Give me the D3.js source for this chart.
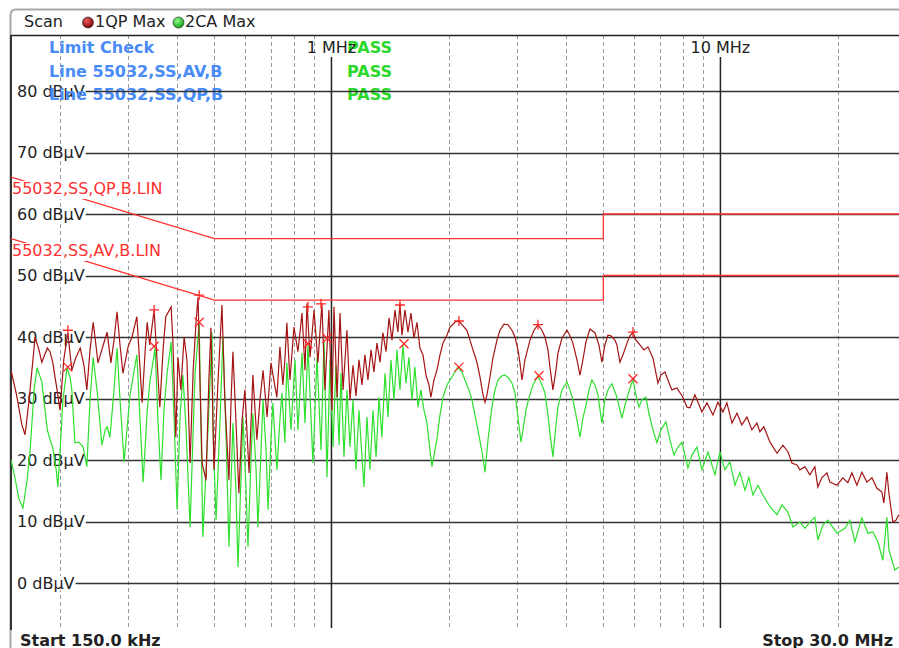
<!DOCTYPE html>
<html>
<head>
<meta charset="utf-8">
<script src="https://cdn.jsdelivr.net/npm/d3@7"></script>
<style>
  body { margin: 0; background: #fff; }
  svg { display: block; font-family: "DejaVu Sans", Verdana, sans-serif; }
</style>
</head>
<body>
<svg id="chart" width="899" height="648"></svg>
<script>
// QP max trace (trace 1), [MHz, dBuV]
const qpTrace = [
  [0.150, 34.6], [0.155, 30.6], [0.160, 25.7], [0.163, 24.1], [0.167, 29.8], [0.173, 40.0], [0.177, 37.9],
  [0.180, 35.9], [0.186, 38.2], [0.189, 37.6], [0.192, 35.9], [0.197, 31.4], [0.2005, 28.1], [0.205, 36.3],
  [0.210, 40.7], [0.215, 34.6], [0.220, 36.6], [0.226, 38.2], [0.231, 35.4], [0.235, 31.4], [0.2395, 37.9],
  [0.244, 42.4], [0.248, 38.7], [0.251, 35.8], [0.259, 38.7], [0.265, 40.8], [0.271, 35.8], [0.276, 39.5],
  [0.281, 44.1], [0.286, 38.7], [0.291, 34.1], [0.300, 38.4], [0.307, 40.0], [0.316, 43.3], [0.326, 29.3],
  [0.332, 37.9], [0.336, 42.4], [0.341, 38.7], [0.350, 44.4], [0.356, 36.3], [0.362, 28.6], [0.369, 37.9],
  [0.375, 43.3], [0.387, 44.9], [0.391, 39.5], [0.398, 23.7], [0.403, 36.7], [0.410, 31.4], [0.418, 40.0],
  [0.425, 36.3], [0.433, 19.5], [0.441, 34.6], [0.449, 42.8], [0.454, 46.5], [0.459, 33.0], [0.465, 19.5],
  [0.476, 16.7], [0.484, 33.0], [0.490, 41.5], [0.499, 18.4], [0.511, 33.0], [0.523, 45.2], [0.532, 29.8],
  [0.545, 16.7], [0.552, 29.8], [0.558, 37.6], [0.568, 26.5], [0.578, 14.6], [0.589, 26.5], [0.599, 31.4],
  [0.614, 17.9], [0.628, 33.8], [0.643, 23.3], [0.655, 29.8], [0.667, 34.6], [0.683, 27.0], [0.699, 35.8],
  [0.716, 31.9], [0.724, 30.2], [0.737, 38.4], [0.750, 32.2], [0.759, 36.3], [0.768, 42.3], [0.782, 33.0],
  [0.801, 41.6], [0.820, 37.6], [0.840, 43.9], [0.855, 34.6], [0.865, 45.5], [0.881, 36.7], [0.902, 44.4],
  [0.923, 35.8], [0.945, 45.5], [0.962, 31.4], [0.985, 44.4], [1.003, 28.1], [1.015, 44.9], [1.034, 30.2],
  [1.052, 43.9], [1.071, 31.4], [1.096, 41.1], [1.116, 29.8], [1.136, 35.4], [1.156, 30.4], [1.177, 36.3],
  [1.198, 32.2], [1.219, 37.1], [1.241, 33.0], [1.264, 37.9], [1.286, 34.3], [1.309, 39.0], [1.333, 35.9],
  [1.356, 40.7], [1.381, 37.6], [1.406, 43.1], [1.431, 39.5], [1.456, 44.4], [1.482, 40.8], [1.500, 45.5],
  [1.518, 40.3], [1.545, 44.4], [1.573, 40.8], [1.601, 43.9], [1.630, 39.8], [1.659, 42.4], [1.688, 38.2],
  [1.719, 37.1], [1.750, 33.8], [1.781, 32.2], [1.802, 30.2], [1.834, 33.0], [1.867, 34.6], [1.901, 37.1],
  [1.935, 39.0], [1.981, 40.3], [2.017, 41.6], [2.077, 42.4], [2.127, 42.6], [2.165, 42.0], [2.230, 41.1],
  [2.270, 39.5], [2.311, 37.9], [2.366, 35.9], [2.409, 33.5], [2.452, 30.6], [2.482, 29.4], [2.511, 30.6],
  [2.556, 33.5], [2.601, 36.6], [2.664, 39.5], [2.712, 41.1], [2.777, 42.1], [2.843, 42.0], [2.911, 41.1],
  [2.964, 40.0], [3.017, 37.9], [3.052, 35.8], [3.088, 33.0], [3.144, 36.3], [3.239, 39.5], [3.317, 41.1],
  [3.396, 42.0], [3.477, 41.1], [3.539, 40.0], [3.603, 37.9], [3.645, 35.1], [3.710, 31.4], [3.777, 34.6],
  [3.822, 37.4], [3.913, 39.8], [4.031, 41.1], [4.103, 40.2], [4.176, 39.0], [4.277, 36.3], [4.353, 33.8],
  [4.431, 36.3], [4.511, 39.2], [4.618, 41.3], [4.757, 40.7], [4.871, 38.7], [4.958, 35.9], [5.047, 38.7],
  [5.138, 40.3], [5.230, 40.2], [5.355, 39.5], [5.419, 38.7], [5.517, 35.9], [5.616, 37.1], [5.751, 39.0],
  [5.853, 40.2], [5.958, 40.8], [6.065, 39.5], [6.210, 38.7], [6.359, 37.9], [6.511, 38.4], [6.706, 36.6],
  [6.908, 32.5], [7.031, 33.8], [7.200, 34.3], [7.329, 33.0], [7.504, 31.4], [7.730, 31.7], [8.010, 30.2],
  [8.203, 28.6], [8.349, 28.5], [8.600, 30.6], [8.963, 27.8], [9.234, 29.3], [9.566, 27.3], [9.854, 29.4],
  [10.15, 27.8], [10.39, 29.3], [10.71, 26.0], [11.03, 27.6], [11.35, 25.7], [11.70, 27.0], [12.05, 24.9],
  [12.41, 26.0], [12.63, 24.6], [12.93, 25.4], [13.41, 22.9], [13.98, 21.1], [14.48, 22.4], [14.92, 21.3],
  [15.27, 19.5], [15.73, 19.2], [16.01, 18.4], [16.49, 18.9], [16.98, 17.6], [17.49, 18.9], [17.80, 15.6],
  [18.23, 17.1], [18.78, 17.9], [19.12, 16.4], [19.93, 15.9], [20.64, 17.1], [21.26, 16.3], [21.78, 17.9],
  [22.43, 15.9], [23.10, 18.0], [23.80, 16.4], [24.52, 17.1], [25.26, 15.4], [26.01, 14.8], [26.32, 13.0],
  [26.79, 18.0], [27.11, 14.6], [27.76, 9.9], [28.26, 10.2], [28.76, 11.1]
];

// CISPR average max trace (trace 2), [MHz, dBuV]
const avTrace = [
  [0.150, 20.0], [0.154, 16.7], [0.157, 13.8], [0.161, 12.2], [0.165, 16.7], [0.168, 21.6], [0.172, 31.4],
  [0.175, 35.0], [0.180, 32.7], [0.186, 24.9], [0.189, 23.3], [0.192, 22.1], [0.196, 18.4], [0.198, 15.6],
  [0.202, 24.9], [0.204, 29.8], [0.209, 35.0], [0.213, 33.3], [0.215, 31.4], [0.219, 22.8], [0.224, 22.9],
  [0.230, 22.1], [0.235, 18.9], [0.2395, 29.8], [0.244, 36.7], [0.250, 30.9], [0.257, 22.4], [0.262, 24.9],
  [0.265, 25.4], [0.2695, 23.7], [0.276, 31.4], [0.281, 38.2], [0.286, 29.8], [0.293, 19.7], [0.298, 24.9],
  [0.303, 30.2], [0.311, 34.6], [0.316, 37.1], [0.322, 26.5], [0.328, 16.4], [0.336, 28.1], [0.341, 32.5],
  [0.352, 38.2], [0.358, 26.5], [0.3645, 16.7], [0.371, 28.1], [0.378, 34.1], [0.387, 39.2], [0.394, 26.5],
  [0.401, 11.9], [0.408, 27.0], [0.415, 33.8], [0.423, 24.9], [0.433, 9.1], [0.441, 24.9], [0.446, 34.1],
  [0.457, 42.3], [0.462, 24.9], [0.467, 7.5], [0.476, 18.4], [0.4815, 24.9], [0.490, 36.3], [0.493, 40.7],
  [0.496, 24.9], [0.505, 10.2], [0.517, 26.5], [0.526, 40.0], [0.536, 23.3], [0.545, 5.9], [0.552, 16.7],
  [0.558, 26.0], [0.568, 15.1], [0.575, 2.6], [0.585, 16.7], [0.592, 27.0], [0.603, 15.1], [0.610, 5.9],
  [0.621, 20.0], [0.628, 27.6], [0.640, 18.4], [0.647, 9.1], [0.659, 21.6], [0.667, 29.8], [0.679, 21.6],
  [0.687, 11.9], [0.699, 23.3], [0.707, 29.3], [0.716, 23.3], [0.724, 18.4], [0.737, 26.5], [0.746, 30.9],
  [0.759, 22.8], [0.768, 35.8], [0.787, 24.9], [0.806, 36.3], [0.820, 24.9], [0.840, 37.4], [0.855, 26.0],
  [0.870, 38.7], [0.896, 19.5], [0.918, 36.7], [0.940, 21.6], [0.957, 39.5], [0.974, 17.2], [0.9915, 36.3],
  [1.009, 22.1], [1.027, 35.4], [1.046, 22.4], [1.058, 34.1], [1.077, 20.5], [1.096, 31.4], [1.116, 22.1],
  [1.136, 29.8], [1.156, 18.4], [1.177, 28.1], [1.212, 15.6], [1.234, 27.0], [1.256, 18.4], [1.279, 28.1],
  [1.302, 20.5], [1.325, 30.2], [1.348, 23.7], [1.373, 34.1], [1.397, 27.0], [1.422, 36.3], [1.448, 29.8],
  [1.474, 37.9], [1.500, 31.4], [1.527, 38.7], [1.554, 32.5], [1.582, 36.7], [1.610, 29.8], [1.639, 35.1],
  [1.669, 28.6], [1.698, 31.4], [1.729, 28.1], [1.760, 26.0], [1.792, 21.6], [1.813, 18.9], [1.845, 21.6],
  [1.867, 23.3], [1.901, 27.3], [1.935, 30.2], [1.981, 32.2], [2.041, 33.5], [2.114, 35.1], [2.165, 34.3],
  [2.204, 33.0], [2.257, 31.4], [2.297, 29.8], [2.338, 27.3], [2.380, 24.9], [2.438, 21.3], [2.482, 18.0],
  [2.526, 23.3], [2.586, 28.6], [2.633, 31.4], [2.680, 33.0], [2.744, 33.7], [2.793, 33.8], [2.860, 33.3],
  [2.911, 32.5], [2.964, 30.9], [3.017, 27.0], [3.070, 22.9], [3.107, 24.9], [3.163, 28.1], [3.219, 30.1],
  [3.297, 32.2], [3.396, 33.7], [3.477, 32.2], [3.539, 30.9], [3.603, 27.3], [3.645, 24.4], [3.710, 20.5],
  [3.777, 25.7], [3.822, 28.6], [3.913, 31.4], [4.031, 32.7], [4.103, 31.4], [4.176, 29.8], [4.277, 26.5],
  [4.353, 23.7], [4.431, 26.8], [4.511, 28.9], [4.592, 31.4], [4.673, 33.0], [4.757, 32.2], [4.842, 30.6],
  [4.958, 26.0], [5.047, 29.8], [5.138, 31.4], [5.261, 32.4], [5.419, 30.2], [5.517, 28.1], [5.583, 26.8],
  [5.683, 28.9], [5.785, 30.6], [5.888, 32.2], [5.958, 33.0], [6.065, 30.6], [6.174, 28.6], [6.284, 29.8],
  [6.435, 30.2], [6.550, 27.6], [6.706, 24.9], [6.867, 22.8], [7.031, 24.9], [7.243, 26.2], [7.416, 23.3],
  [7.594, 20.8], [7.776, 22.1], [7.963, 22.9], [8.106, 20.8], [8.251, 18.7], [8.448, 20.8], [8.703, 22.1],
  [8.963, 18.4], [9.288, 21.3], [9.681, 17.6], [9.971, 21.3], [10.27, 18.4], [10.58, 19.7], [10.90, 15.9],
  [11.22, 18.0], [11.56, 15.1], [11.83, 17.2], [12.12, 14.3], [12.49, 15.9], [12.86, 14.3], [13.41, 12.4],
  [13.98, 11.1], [14.40, 12.7], [14.92, 11.5], [15.36, 9.1], [16.01, 9.9], [16.49, 8.9], [16.98, 9.9],
  [17.49, 10.7], [17.80, 7.0], [18.34, 9.4], [18.89, 10.2], [19.93, 8.1], [20.89, 8.9], [21.52, 10.2],
  [22.17, 6.7], [23.10, 10.6], [23.94, 8.1], [24.66, 8.3], [25.40, 6.7], [26.16, 3.7], [26.79, 10.7],
  [27.11, 5.4], [28.09, 2.1], [28.76, 2.6]
];

// limit lines
const limitQpFreq = [0.15, 0.5, 5, 5, 30];
const limitQpLevel = [66, 56, 56, 60, 60];
const limitAvFreq = [0.15, 0.5, 5, 5, 30];
const limitAvLevel = [56, 46, 46, 50, 50];

// peak markers
const qpPeakFreq = [0.210, 0.350, 0.457, 0.870, 0.940, 1.500, 2.127, 3.396, 5.958];
const qpPeakLevel = [41.1, 44.4, 46.8, 44.9, 45.4, 45.2, 42.6, 42.0, 40.8];
const avPeakFreq = [0.210, 0.350, 0.457, 0.870, 0.974, 1.536, 2.127, 3.416, 5.958];
const avPeakLevel = [35.1, 38.5, 42.4, 38.9, 39.8, 38.9, 35.1, 33.7, 33.2];

const levelTicks = [0, 10, 20, 30, 40, 50, 60, 70, 80];
const minorFreqs = [0.2, 0.3, 0.4, 0.5, 0.6, 0.7, 0.8, 0.9, 2, 3, 4, 5, 6, 7, 8, 9, 20];
const majorFreqs = [1, 10];
const majorLabels = ["1 MHz", "10 MHz"];
const checkLines = ["Limit Check", "Line 55032,SS,AV,B", "Line 55032,SS,QP,B"];

const svg = d3.select("#chart");
const W = 899, H = 648;
const plotTop = 35, plotBottom = 628, plotLeft = 11;

const x = d3.scaleLog().domain([0.15, 30]).range([11, 906]);
const y = d3.scaleLinear().domain([0, 80]).range([583, 91]);

const defs = svg.append("defs");
defs.append("clipPath").attr("id", "plotclip")
  .append("rect").attr("x", plotLeft).attr("y", plotTop)
  .attr("width", W - plotLeft).attr("height", plotBottom - plotTop);

function ballGradient(id, light, dark) {
  const g = defs.append("radialGradient").attr("id", id)
    .attr("cx", "40%").attr("cy", "35%").attr("r", "65%");
  g.append("stop").attr("offset", "0%").attr("stop-color", light);
  g.append("stop").attr("offset", "100%").attr("stop-color", dark);
}
ballGradient("redBall", "#f06060", "#7a0000");
ballGradient("greenBall", "#90ff90", "#10a010");

// outer panel
svg.append("path")
  .attr("d", `M10.5,${H} V15 Q10.5,9.5 16,9.5 H${W}`)
  .attr("fill", "none").attr("stroke", "#a8a8a8").attr("stroke-width", 2);

// header
const header = svg.append("g").attr("font-size", 16).attr("fill", "#222");
header.append("text").attr("x", 24).attr("y", 27).text("Scan");
header.append("circle").attr("cx", 88).attr("cy", 22.5).attr("r", 5.5)
  .attr("fill", "url(#redBall)").attr("stroke", "#444").attr("stroke-width", 0.8);
header.append("text").attr("x", 95).attr("y", 27).text("1QP Max");
header.append("circle").attr("cx", 178.5).attr("cy", 22.5).attr("r", 5.5)
  .attr("fill", "url(#greenBall)").attr("stroke", "#444").attr("stroke-width", 0.8);
header.append("text").attr("x", 185).attr("y", 27).text("2CA Max");

// dashed minor verticals
svg.append("g").selectAll("line").data(minorFreqs).enter().append("line")
  .attr("x1", d => Math.round(x(d)) + 0.5).attr("x2", d => Math.round(x(d)) + 0.5)
  .attr("y1", plotTop).attr("y2", plotBottom)
  .attr("stroke", "#999").attr("stroke-width", 1).attr("stroke-dasharray", "4,3");

// level labels
const levelG = svg.append("g").attr("font-size", 16).attr("fill", "#222");
levelTicks.forEach(v => {
  const t = levelG.append("text").attr("x", 17).attr("y", y(v) + 5.5).text(`${v} dBµV`);
  const w = t.node().getComputedTextLength();
  levelG.insert("rect", "text").attr("x", 16).attr("y", y(v) - 7).attr("width", w + 2).attr("height", 14)
    .attr("fill", "#fff");
  t.attr("data-w", w);
});

// limit check text
const check = svg.append("g").attr("font-size", 16).attr("font-weight", "bold");
checkLines.forEach((s, i) => {
  check.append("text").attr("x", 49).attr("y", 53 + i * 23.5).attr("fill", "#4a8cf7").text(s);
  check.append("text").attr("x", 347).attr("y", 53 + i * 23.5).attr("fill", "#2bd82b").text("PASS");
});

// horizontal grid
levelG.selectAll("text").each(function(d, i) {
  const v = levelTicks[i];
  const w = +this.getAttribute("data-w");
  svg.append("line")
    .attr("x1", 17 + w + 1).attr("x2", W)
    .attr("y1", Math.round(y(v)) + 0.5).attr("y2", Math.round(y(v)) + 0.5)
    .attr("stroke", "#333").attr("stroke-width", 1.4);
});

// frame
svg.append("line").attr("x1", plotLeft).attr("x2", W).attr("y1", plotTop + 0.5).attr("y2", plotTop + 0.5)
  .attr("stroke", "#222").attr("stroke-width", 1.4);
svg.append("line").attr("x1", plotLeft).attr("x2", plotLeft).attr("y1", plotTop).attr("y2", plotBottom + 2)
  .attr("stroke", "#333").attr("stroke-width", 2);

// major verticals + labels
majorFreqs.forEach((f, i) => {
  svg.append("line")
    .attr("x1", x(f)).attr("x2", x(f)).attr("y1", 57).attr("y2", plotBottom)
    .attr("stroke", "#222").attr("stroke-width", 1.5);
  svg.append("text").attr("x", x(f)).attr("y", 53).attr("text-anchor", "middle")
    .attr("font-size", 16).attr("fill", "#222").text(majorLabels[i]);
});

const plot = svg.append("g").attr("clip-path", "url(#plotclip)");

// limit lines
const limitLine = d3.line().x(d => x(d[0])).y(d => y(d[1]));
plot.append("path").datum(limitQpFreq.map((f, i) => [f, limitQpLevel[i]]))
  .attr("d", limitLine).attr("fill", "none").attr("stroke", "#ff3030").attr("stroke-width", 1.3);
plot.append("path").datum(limitAvFreq.map((f, i) => [f, limitAvLevel[i]]))
  .attr("d", limitLine).attr("fill", "none").attr("stroke", "#ff3030").attr("stroke-width", 1.3);

// limit names with white background
[["55032,SS,QP,B.LIN", 194], ["55032,SS,AV,B.LIN", 256]].forEach(([name, base]) => {
  const bg = svg.append("rect");
  const t = svg.append("text").attr("x", 12).attr("y", base).attr("font-size", 16)
    .attr("fill", "#ff3030").text(name);
  const w = t.node().getComputedTextLength();
  bg.attr("x", 12).attr("y", base - 13).attr("width", w + 1).attr("height", 18).attr("fill", "#fff");
});

// traces
const traceLine = d3.line().x(d => x(d[0])).y(d => y(d[1]));
plot.append("path").datum(avTrace).attr("d", traceLine)
  .attr("fill", "none").attr("stroke", "#2ee02e").attr("stroke-width", 1.2);
plot.append("path").datum(qpTrace).attr("d", traceLine)
  .attr("fill", "none").attr("stroke", "#a41414").attr("stroke-width", 1.2);

// peak markers
const marks = plot.append("g").attr("stroke", "#ff2a2a").attr("stroke-width", 1.3).attr("fill", "none");
qpPeakFreq.forEach((f, i) => {
  const cx = x(f), cy = y(qpPeakLevel[i]);
  marks.append("path").attr("d", `M${cx - 5},${cy} H${cx + 5} M${cx},${cy - 5} V${cy + 5}`);
});
avPeakFreq.forEach((f, i) => {
  const cx = x(f), cy = y(avPeakLevel[i]);
  marks.append("path").attr("d", `M${cx - 4.5},${cy - 4.5} L${cx + 4.5},${cy + 4.5} M${cx - 4.5},${cy + 4.5} L${cx + 4.5},${cy - 4.5}`);
});

// footer
svg.append("text").attr("x", 20).attr("y", 645.5).attr("font-size", 16).attr("font-weight", "bold")
  .attr("fill", "#222").text("Start 150.0 kHz");
svg.append("text").attr("x", 893).attr("y", 645.5).attr("font-size", 16).attr("font-weight", "bold")
  .attr("text-anchor", "end").attr("fill", "#222").text("Stop 30.0 MHz");
</script>
</body>
</html>
